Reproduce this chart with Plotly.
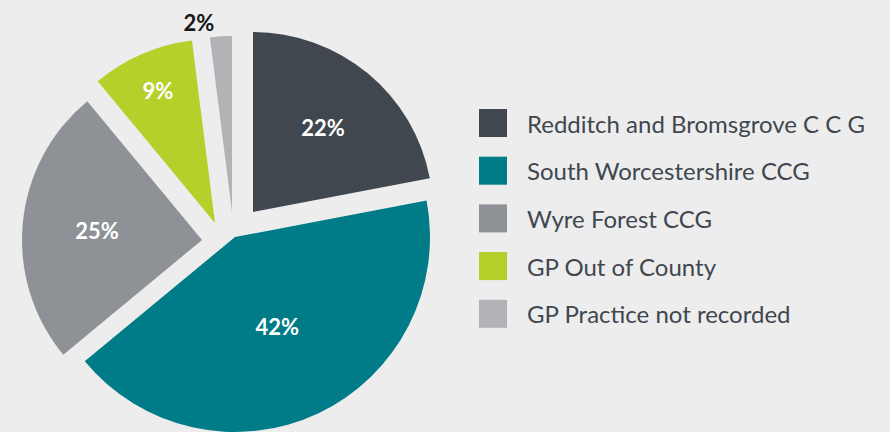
import plotly.graph_objects as go

# ---- data ----
categories = ["Redditch and Bromsgrove C C G", "South Worcestershire CCG", "Wyre Forest CCG",
              "GP Out of County", "GP Practice not recorded"]
values = [22, 42, 25, 9, 2]

# ---- styling / layout (not data) ----
colors = ["#40474f", "#007c88", "#8e9297", "#b5cf2b", "#b1b3b7"]
label_colors = ["#ffffff", "#ffffff", "#ffffff", "#ffffff", "#161616"]
text_positions = ["inside", "inside", "inside", "inside", "outside"]
# exploded-slice layout: apex of each slice (px) and its radius (px)
slice_apex = [(253, 212), (235, 237), (202, 240), (215, 223), (232, 212)]
slice_radius = [180, 195, 180, 184, 176]

W, H = 890, 432
BG = "#ededed"
CLEAR = "rgba(0,0,0,0)"

fig = go.Figure()
n = len(values)
for i in range(n):
    ax, ay = slice_apex[i]
    rr = slice_radius[i]
    fig.add_trace(go.Pie(
        labels=categories,
        values=values,
        sort=False,
        direction="clockwise",
        rotation=0,
        automargin=False,
        marker=dict(colors=[colors[j] if j == i else CLEAR for j in range(n)], line=dict(width=0)),
        texttemplate=["%{value}%" if j == i else "" for j in range(n)],
        textposition=[text_positions[i] if j == i else "none" for j in range(n)],
        insidetextorientation="horizontal",
        textfont=dict(family="Lato", size=22, color=label_colors[i], weight="bold"),
        hoverinfo="label+percent",
        showlegend=False,
        domain=dict(x=[(ax - rr) / W, (ax + rr) / W], y=[1 - (ay + rr) / H, 1 - (ay - rr) / H]),
    ))

# custom legend built from the category list
leg_x0, leg_y0, leg_dy, sq = 479, 123, 47.7, 28
shapes, annotations = [], []
for i, (cat, col) in enumerate(zip(categories, colors)):
    yc = leg_y0 + i * leg_dy
    shapes.append(dict(type="rect", xref="paper", yref="paper",
                       x0=leg_x0 / W, x1=(leg_x0 + sq) / W,
                       y0=1 - (yc + sq / 2) / H, y1=1 - (yc - sq / 2) / H,
                       fillcolor=col, line=dict(width=0)))
    annotations.append(dict(xref="paper", yref="paper", x=525 / W, y=1 - yc / H,
                            xanchor="left", yanchor="middle", showarrow=False,
                            text=cat, font=dict(family="Lato", size=24, color="#3f474f")))

fig.update_layout(
    width=W, height=H,
    margin=dict(l=0, r=0, t=0, b=0, autoexpand=False),
    paper_bgcolor=BG, plot_bgcolor=BG,
    shapes=shapes, annotations=annotations,
)
fig.write_html("out.html", config={"displayModeBar": False},
               post_script="document.body.style.margin='0';document.body.style.overflow='hidden';")
